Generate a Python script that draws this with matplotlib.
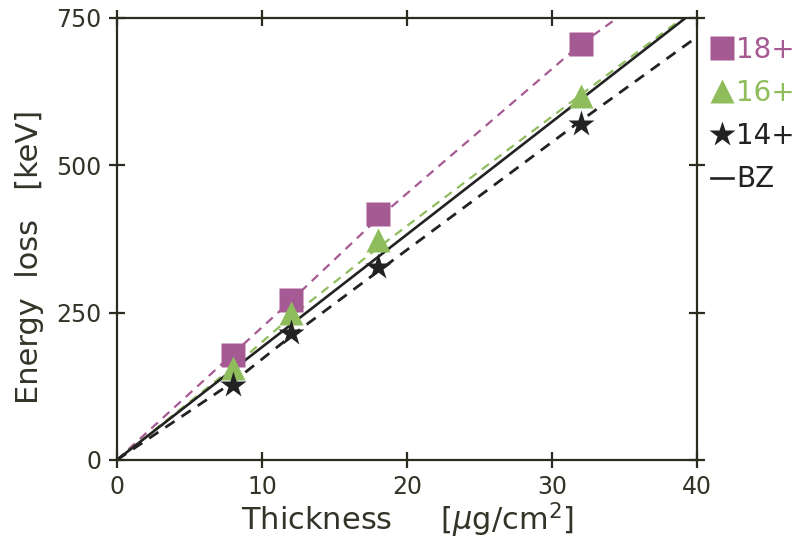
import matplotlib
matplotlib.use("Agg")
import matplotlib.pyplot as plt
from matplotlib.lines import Line2D

# measured points (thickness in ug/cm2, energy loss in keV)
thickness = [8, 12, 18, 32]
loss_18 = [178, 272, 417, 706]
loss_16 = [156, 250, 374, 617]
loss_14 = [127, 216, 327, 570]

# fit / theory curves
fit18_x = [0, 8, 12, 18, 32, 34.5]
fit18_y = [0, 180, 270, 410, 706, 750]
fit16_x = [0, 8, 12, 18, 32, 39]
fit16_y = [0, 157, 243, 360, 620, 750]
fit14_x = [0, 8, 12, 18, 32, 40]
fit14_y = [0, 132, 210, 320, 576, 718]
bz_x = [0, 39.2]
bz_y = [0, 750]

PINK = "#a65a94"
GREEN = "#8fbd5c"
DARK = "#222222"
AXC = "#2b2b1f"
TXT = "#333328"

plt.rcParams["font.family"] = "DejaVu Sans"

fig = plt.figure(figsize=(7.95, 5.43), dpi=100)
ax = fig.add_axes([0.147, 0.153, 0.730, 0.814])

dash = (0, (4, 3))
ax.plot(fit18_x, fit18_y, color=PINK, lw=1.6, ls=dash)
ax.plot(fit16_x, fit16_y, color=GREEN, lw=1.6, ls=dash)
ax.plot(fit14_x, fit14_y, color=DARK, lw=2.0, ls=dash)
ax.plot(bz_x, bz_y, color=DARK, lw=1.9)

ax.plot(thickness, loss_18, "s", color=PINK, ms=17, mec="none")
ax.plot(thickness, loss_16, "^", color=GREEN, ms=17, mec="none")
ax.plot(thickness, loss_14, "*", color=DARK, ms=20, mec="none")

ax.set_xlim(0, 40)
ax.set_ylim(0, 750)
ax.set_xticks([0, 10, 20, 30, 40])
ax.set_yticks([0, 250, 500, 750])

for s in ax.spines.values():
    s.set_linewidth(1.6)
    s.set_color(AXC)
ax.tick_params(direction="inout", length=12, width=1.6, color=AXC,
               labelsize=17, labelcolor=TXT, pad=5,
               top=True, right=True)

ax.set_xlabel("Thickness     [$\\mu$g/cm$^2$]", fontsize=22, color=TXT, labelpad=1)
ax.set_ylabel("Energy  loss   [keV]", fontsize=22, color=TXT)
ax.yaxis.set_label_coords(-0.125, 0.46)

handles = [
    Line2D([], [], marker="s", color=PINK, ls="none", ms=17, mec="none"),
    Line2D([], [], marker="^", color=GREEN, ls="none", ms=17, mec="none"),
    Line2D([], [], marker="*", color=DARK, ls="none", ms=19, mec="none"),
    Line2D([], [], color=DARK, lw=1.9),
]
leg = ax.legend(handles, ["18+", "16+", "14+", "BZ"], loc="upper left",
                bbox_to_anchor=(1.005, 0.985), frameon=False, fontsize=20,
                handlelength=0.8, handletextpad=0.1, labelspacing=0.55,
                borderaxespad=0)
for t, c in zip(leg.get_texts(), [PINK, GREEN, DARK, DARK]):
    t.set_color(c)

fig.savefig("out.png", dpi=100, facecolor="white")
